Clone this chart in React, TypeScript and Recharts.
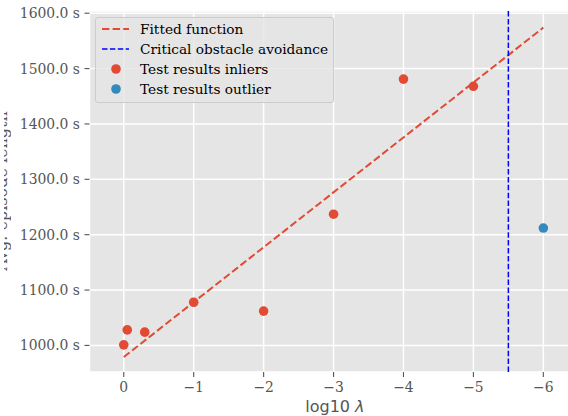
import React from 'react';
import { ComposedChart, Scatter, Line, XAxis, YAxis, CartesianGrid, ReferenceLine } from 'recharts';

const xTicks = [0, -1, -2, -3, -4, -5, -6];
const yTicks = [1000, 1100, 1200, 1300, 1400, 1500, 1600];

const inlierX = [0, -0.05, -0.3, -1, -2, -3, -4, -5];
const inlierY = [1001, 1028, 1024, 1078, 1062, 1237, 1481, 1468];
const outlierX = [-6];
const outlierY = [1212];
const fitX = [0, -6];
const fitY = [979, 1574];
const criticalX = -5.5;

const RED = '#E24A33';
const BLUE = '#348ABD';
const GRAY = '#555555';
const SERIF = '"DejaVu Serif", serif';

const inliers = inlierX.map((x, i) => ({ x, y: inlierY[i] }));
const outliers = outlierX.map((x, i) => ({ x, y: outlierY[i] }));
const fit = fitX.map((x, i) => ({ x, y: fitY[i] }));

const legendItems = [
 { name: 'Fitted function', kind: 'line', color: RED, w: 2, dash: '7.4 3.2' },
 { name: 'Critical obstacle avoidance', kind: 'line', color: '#0000FF', w: 1.5, dash: '5.5 2.4' },
 { name: 'Test results inliers', kind: 'dot', color: RED },
 { name: 'Test results outlier', kind: 'dot', color: BLUE },
];

const dot = (color: string) => (p: any) => <circle cx={p.cx} cy={p.cy} r={4.8} fill={color} />;

const LegendBox = () => (
 <div
  style={{
   position: 'absolute',
   left: 95,
   top: 17,
   width: 237,
   height: 83,
   background: 'rgba(229,229,229,0.8)',
   border: '1px solid #cccccc',
   borderRadius: 3,
   fontFamily: SERIF,
   fontSize: 13.7,
   color: '#000',
   paddingTop: 1,
  }}
 >
  {legendItems.map((it) => (
   <div key={it.name} style={{ height: 20, display: 'flex', alignItems: 'center' }}>
    <svg width={44} height={20}>
     {it.kind === 'line' ? (
      <line x1={6} x2={33} y1={10} y2={10} stroke={it.color} strokeWidth={it.w} strokeDasharray={it.dash} />
     ) : (
      <circle cx={20} cy={10} r={4.8} fill={it.color} />
     )}
    </svg>
    <span>{it.name}</span>
   </div>
  ))}
 </div>
);

const xLabel = (props: any) => {
 const { viewBox } = props;
 const cx = viewBox.x + viewBox.width / 2;
 return (
  <text x={cx + 1} y={412} textAnchor="middle" fill={GRAY} fontSize={16} fontFamily='"DejaVu Sans", sans-serif'>
   log10 <tspan fontStyle="italic">λ</tspan>
  </text>
 );
};

export default function App() {
 return (
  <div style={{ position: 'absolute', left: 0, top: 0, width: 568, height: 416, overflow: 'hidden', background: '#fff' }}>
   {/* y label is cropped in the original image, only its lower edge shows */}
   <div style={{ position: 'absolute', left: 4, top: 0, width: 7, height: 416, overflow: 'hidden' }}>
    <svg width={20} height={416} style={{ position: 'absolute', left: -4, top: 0 }}>
     <text
      transform="translate(7,191) rotate(-90)"
      textAnchor="middle"
      fill={GRAY}
      fontSize={16}
      fontFamily={SERIF}
     >
      Avg. episode length
     </text>
    </svg>
   </div>
   <ComposedChart width={580} height={416} margin={{ top: 11, right: 1.7, left: 0, bottom: 0 }}>
    <CartesianGrid fill="#E5E5E5" stroke="#ffffff" strokeWidth={1.5} />
    <XAxis
     type="number"
     dataKey="x"
     reversed
     domain={[-6.5, 0.49]}
     allowDataOverflow
     ticks={xTicks}
     tickFormatter={(v: number) => (v === 0 ? '0' : '\u2212' + Math.abs(v))}
     axisLine={false}
     tickLine={{ stroke: GRAY, strokeWidth: 1.1 }}
     tickSize={5}
     tickMargin={5}
     height={44}
     tick={{ fill: GRAY, fontSize: 13.9, fontFamily: SERIF }}
     label={xLabel}
    />
    <YAxis
     type="number"
     dataKey="y"
     domain={[952, 1604]}
     allowDataOverflow
     ticks={yTicks}
     tickFormatter={(v: number) => v.toFixed(1) + ' s'}
     axisLine={false}
     tickLine={{ stroke: GRAY, strokeWidth: 1.1 }}
     tickSize={5}
     tickMargin={4.5}
     width={89.5}
     tick={{ fill: GRAY, fontSize: 13.9, fontFamily: SERIF }}
    />
    <Line
     data={fit}
     dataKey="y"
     type="linear"
     stroke={RED}
     strokeWidth={2}
     strokeDasharray="7.4 3.2"
     dot={false}
     activeDot={false}
     isAnimationActive={false}
    />
    <ReferenceLine x={criticalX} stroke="#0000FF" strokeWidth={1.5} strokeDasharray="5.5 2.4" />
    <Scatter data={inliers} dataKey="y" shape={dot(RED)} isAnimationActive={false} />
    <Scatter data={outliers} dataKey="y" shape={dot(BLUE)} isAnimationActive={false} />
   </ComposedChart>
   <LegendBox />
  </div>
 );
}
